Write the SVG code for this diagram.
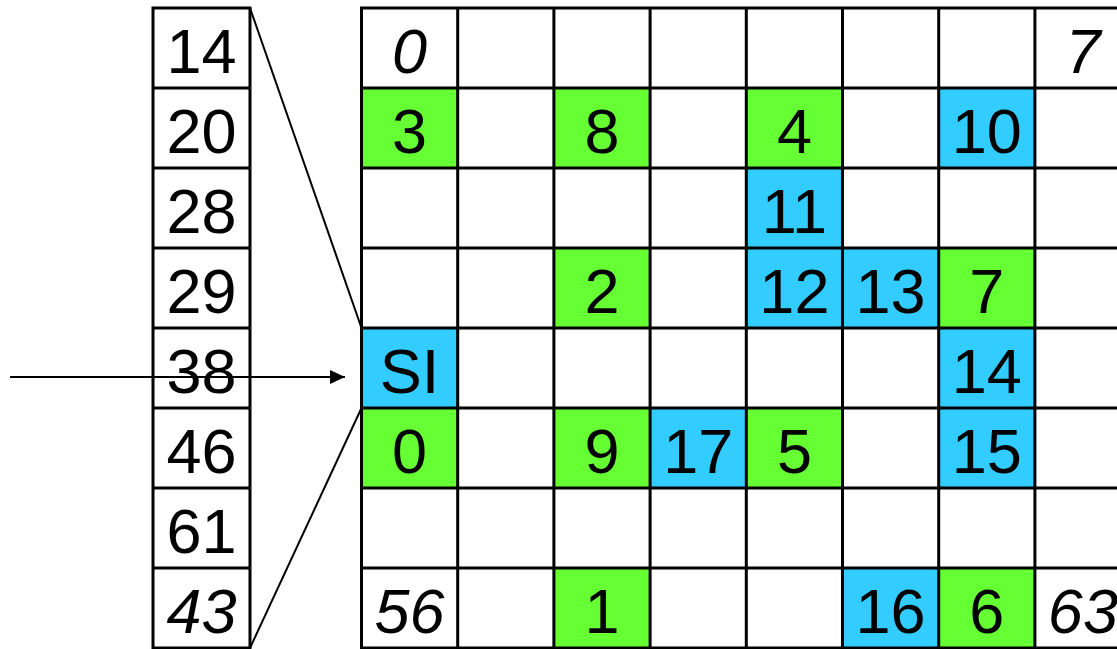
<svg xmlns="http://www.w3.org/2000/svg" width="1117" height="649" viewBox="0 0 1117 649">
<style>
.g{fill:#66FF33}
.b{fill:#33CCFF}
.t{font-family:"Liberation Sans",Arial,sans-serif;font-size:63px;fill:#000;text-anchor:middle}
.i{font-style:italic}
.ln{stroke:#000;stroke-width:3;fill:none}
.c{stroke:#000;stroke-width:2;fill:none}
</style>
<defs>
<marker id="ah" markerWidth="16" markerHeight="14" refX="15" refY="7" orient="auto" markerUnits="userSpaceOnUse">
<path d="M0,0 L15,7 L0,14 Z" fill="#000"/>
</marker>
</defs>
<rect width="1117" height="649" fill="#fff"/>

<g id="cells">
<g id="c0_0"><text class="t i" x="409.6" y="73">0</text></g>
<g id="c0_7"><text class="t i" x="1082.9" y="73">7</text></g>
<g id="c1_0"><rect class="g" x="361.5" y="88" width="96.2" height="80"/><text class="t" x="409.6" y="153">3</text></g>
<g id="c1_2"><rect class="g" x="553.9" y="88" width="96.2" height="80"/><text class="t" x="602" y="153">8</text></g>
<g id="c1_4"><rect class="g" x="746.3" y="88" width="96.2" height="80"/><text class="t" x="794.4" y="153">4</text></g>
<g id="c1_6"><rect class="b" x="938.7" y="88" width="96.2" height="80"/><text class="t" x="986.8" y="153">10</text></g>
<g id="c2_4"><rect class="b" x="746.3" y="168" width="96.2" height="80"/><text class="t" x="794.4" y="233">11</text></g>
<g id="c3_2"><rect class="g" x="553.9" y="248" width="96.2" height="80"/><text class="t" x="602" y="313">2</text></g>
<g id="c3_4"><rect class="b" x="746.3" y="248" width="96.2" height="80"/><text class="t" x="794.4" y="313">12</text></g>
<g id="c3_5"><rect class="b" x="842.5" y="248" width="96.2" height="80"/><text class="t" x="890.6" y="313">13</text></g>
<g id="c3_6"><rect class="g" x="938.7" y="248" width="96.2" height="80"/><text class="t" x="986.8" y="313">7</text></g>
<g id="c4_0"><rect class="b" x="361.5" y="328" width="96.2" height="80"/><text class="t" x="409.6" y="393">SI</text></g>
<g id="c4_6"><rect class="b" x="938.7" y="328" width="96.2" height="80"/><text class="t" x="986.8" y="393">14</text></g>
<g id="c5_0"><rect class="g" x="361.5" y="408" width="96.2" height="80"/><text class="t" x="409.6" y="473">0</text></g>
<g id="c5_2"><rect class="g" x="553.9" y="408" width="96.2" height="80"/><text class="t" x="602" y="473">9</text></g>
<g id="c5_3"><rect class="b" x="650.1" y="408" width="96.2" height="80"/><text class="t" x="698.2" y="473">17</text></g>
<g id="c5_4"><rect class="g" x="746.3" y="408" width="96.2" height="80"/><text class="t" x="794.4" y="473">5</text></g>
<g id="c5_6"><rect class="b" x="938.7" y="408" width="96.2" height="80"/><text class="t" x="986.8" y="473">15</text></g>
<g id="c7_0"><text class="t i" x="409.6" y="633">56</text></g>
<g id="c7_2"><rect class="g" x="553.9" y="568" width="96.2" height="80"/><text class="t" x="602" y="633">1</text></g>
<g id="c7_5"><rect class="b" x="842.5" y="568" width="96.2" height="80"/><text class="t" x="890.6" y="633">16</text></g>
<g id="c7_6"><rect class="g" x="938.7" y="568" width="96.2" height="80"/><text class="t" x="986.8" y="633">6</text></g>
<g id="c7_7"><text class="t i" x="1082.9" y="633">63</text></g>
</g>

<g id="grid">
<path class="ln" d="M361.5,8V648 M457.7,8V648 M553.9,8V648 M650.1,8V648 M746.3,8V648 M842.5,8V648 M938.7,8V648 M1034.9,8V648
M360,8H1120 M360,88H1120 M360,168H1120 M360,248H1120 M360,328H1120 M360,408H1120 M360,488H1120 M360,568H1120 M360,648H1120"/>
</g>

<g id="column">
<path class="ln" d="M153,8V648 M250,8V648 M151.5,8H251.5 M153,88H250 M153,168H250 M153,248H250 M153,328H250 M153,408H250 M153,488H250 M153,568H250 M151.5,648H251.5"/>
<text class="t" x="201.5" y="73">14</text>
<text class="t" x="201.5" y="153">20</text>
<text class="t" x="201.5" y="233">28</text>
<text class="t" x="201.5" y="313">29</text>
<text class="t" x="201.5" y="393">38</text>
<text class="t" x="201.5" y="473">46</text>
<text class="t" x="201.5" y="553">61</text>
<text class="t i" x="201.5" y="633">43</text>
</g>

<g id="connectors">
<line class="c" x1="250" y1="8" x2="361.5" y2="328"/>
<line class="c" x1="250" y1="648" x2="361.5" y2="408"/>
<line class="c" x1="10" y1="377" x2="345" y2="377" marker-end="url(#ah)"/>
</g>
</svg>
